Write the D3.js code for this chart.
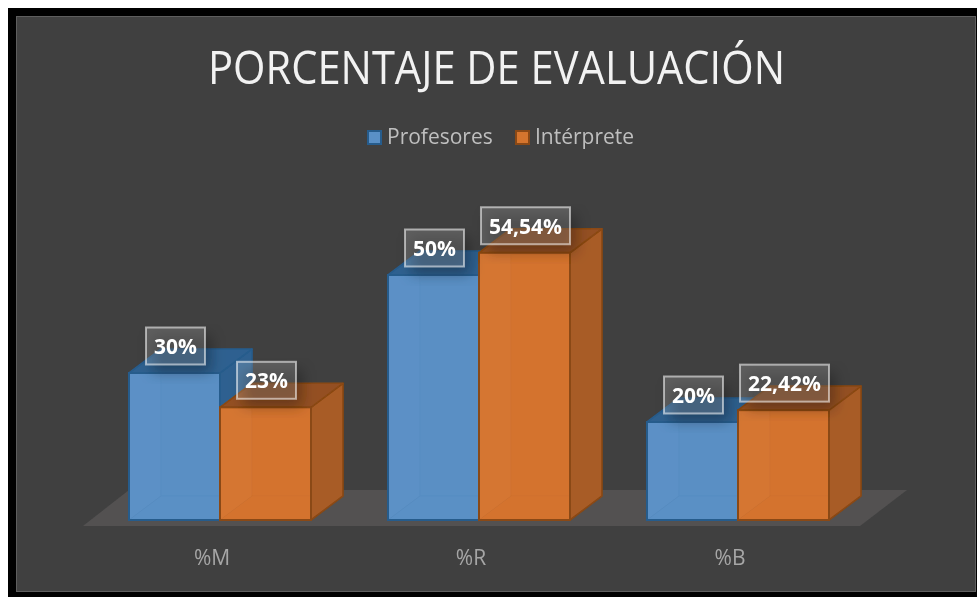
<!DOCTYPE html>
<html>
<head>
<meta charset="utf-8">
<script src="https://cdn.jsdelivr.net/npm/d3@7"></script>
<style>
html, body { margin: 0; padding: 0; background: #fff; overflow: hidden; }
text { font-family: "Open Sans", sans-serif; }
</style>
</head>
<body>
<div id="chart"></div>
<script>
var categories = ["%M", "%R", "%B"];
var seriesNames = ["Profesores", "Intérprete"];
var profesores = [30, 50, 20];
var interprete = [23, 54.54, 22.42];
var profesoresLabels = ["30%", "50%", "20%"];
var interpreteLabels = ["23%", "54,54%", "22,42%"];

var width = 977, height = 597;
var depthX = 32, depthY = 24;

var colors = {
    Profesores: {front: "#5a90c6", side: "#2f6190", top: "#2f6190", line: "#265c8c", inner: "#649bd2"},
    "Intérprete": {front: "#d5742f", side: "#a85c28", top: "#945022", line: "#8a4812", inner: "#e58545"}
};

var svg = d3.select("#chart").append("svg")
    .attr("width", width)
    .attr("height", height);

var defs = svg.append("defs");
defs.append("filter").attr("id", "soft")
    .attr("x", "-30%").attr("y", "-30%").attr("width", "160%").attr("height", "160%")
    .append("feGaussianBlur").attr("stdDeviation", 7);
defs.append("filter").attr("id", "slight")
    .attr("x", "0").attr("y", "0").attr("width", "100%").attr("height", "100%")
    .attr("filterUnits", "userSpaceOnUse")
    .append("feGaussianBlur").attr("stdDeviation", 0.4);

// screenshot frame
svg.append("rect").attr("x", 8).attr("y", 8).attr("width", width - 8).attr("height", height - 8).attr("fill", "#000");
svg.append("rect").attr("x", 16.5).attr("y", 16.5).attr("width", 959).attr("height", 575)
    .attr("fill", "#404040").attr("stroke", "#5e5e5e");

var g = svg.append("g").attr("filter", "url(#slight)");

var x0 = d3.scaleBand().domain(categories).range([90.5, 867.5]).paddingInner(0).paddingOuter(0);
var x1 = d3.scaleBand().domain(seriesNames).range([38.5, 220.5]);
var y = d3.scaleLinear().domain([0, 60]).range([520, 226]);

// floor
var floorBack = 490, floorFront = 526;
g.append("path")
    .attr("d", d3.line()([[83, floorFront], [860, floorFront], [907, floorBack], [129, floorBack]]) + "Z")
    .attr("fill", "#535151");

function rows(name, values, labels) {
    return categories.map(function (c, i) {
        return {cat: c, series: name, value: values[i], label: labels[i]};
    });
}
var data = rows("Profesores", profesores, profesoresLabels)
    .concat(rows("Intérprete", interprete, interpreteLabels));

var poly = d3.line();

var bars = g.selectAll("g.bar").data(data).enter().append("g").attr("class", "bar");

bars.each(function (d) {
    var b = d3.select(this),
        c = colors[d.series],
        xl = x0(d.cat) + x1(d.series),
        xr = xl + x1.bandwidth(),
        yt = y(d.value),
        yb = y(0),
        dx = depthX, dy = depthY;

    function face(pts, fill, op) {
        b.append("path").attr("d", poly(pts) + "Z")
            .attr("fill", fill).attr("fill-opacity", op)
            .attr("stroke", c.line).attr("stroke-width", 1).attr("stroke-opacity", 0.3)
            .attr("stroke-linejoin", "round");
    }
    // inside faces show through the transparent front
    face([[xl, yb], [xl + dx, yb - dy], [xl + dx, yt - dy], [xl, yt]], c.inner, 0.9);
    face([[xl + dx, yb - dy], [xr + dx, yb - dy], [xr + dx, yt - dy], [xl + dx, yt - dy]], c.front, 0.95);
    face([[xl, yb], [xr, yb], [xr + dx, yb - dy], [xl + dx, yb - dy]], c.front, 0.95);

    // right side and top
    b.append("path").attr("d", poly([[xr, yb], [xr + dx, yb - dy], [xr + dx, yt - dy], [xr, yt]]) + "Z")
        .attr("fill", c.side).attr("stroke", c.line).attr("stroke-width", 1.6).attr("stroke-linejoin", "round");
    b.append("path").attr("d", poly([[xl, yt], [xr, yt], [xr + dx, yt - dy], [xl + dx, yt - dy]]) + "Z")
        .attr("fill", c.top).attr("stroke", c.line).attr("stroke-width", 1.6).attr("stroke-linejoin", "round");
    // front
    b.append("rect").attr("x", xl).attr("y", yt).attr("width", xr - xl).attr("height", yb - yt)
        .attr("fill", c.front).attr("fill-opacity", 0.84)
        .attr("stroke", c.line).attr("stroke-width", 2);
});

// data labels go on top of every bar
var labels = g.selectAll("g.label").data(data).enter().append("g").attr("class", "label");

labels.each(function (d) {
    var l = d3.select(this),
        cx = x0(d.cat) + x1(d.series) + x1.bandwidth() / 2 + 1,
        cy = y(d.value) - 27;

    var shadow = l.append("rect").attr("fill", "#000").attr("fill-opacity", 0.3).attr("filter", "url(#soft)");
    var box = l.append("rect").attr("fill", "#fff").attr("fill-opacity", 0.16)
        .attr("stroke", "#fff").attr("stroke-opacity", 0.55).attr("stroke-width", 2);
    var t = l.append("text").attr("x", cx).attr("y", cy + 8)
        .attr("text-anchor", "middle")
        .attr("font-size", 21).attr("font-weight", 700).attr("fill", "#fff")
        .text(d.label);

    var w = t.node().getBBox().width + 16, h = 37;
    box.attr("x", cx - w / 2).attr("y", cy - h / 2).attr("width", w).attr("height", h);
    shadow.attr("x", cx - w / 2 + 6).attr("y", cy - h / 2 + 8).attr("width", w).attr("height", h);
});

// category labels
g.selectAll("text.cat").data(categories).enter().append("text")
    .attr("class", "cat")
    .attr("x", function (d) { return x0(d) + x0.bandwidth() / 2 - 8; })
    .attr("y", 565)
    .attr("text-anchor", "middle")
    .attr("font-size", 21)
    .attr("fill", "#a6a6a6")
    .text(function (d) { return d; });

// title
g.append("text")
    .attr("x", 496.5).attr("y", 84)
    .attr("text-anchor", "middle")
    .attr("font-size", 45)
    .attr("textLength", 577)
    .attr("lengthAdjust", "spacingAndGlyphs")
    .attr("fill", "#f2f2f2")
    .text("PORCENTAJE DE EVALUACIÓN");

// legend
var legendX = [367, 515];
var legend = g.selectAll("g.legend").data(seriesNames).enter().append("g")
    .attr("class", "legend")
    .attr("transform", function (d, i) { return "translate(" + legendX[i] + ",130)"; });
legend.append("rect")
    .attr("x", 1).attr("y", 1).attr("width", 13).attr("height", 13)
    .attr("fill", function (d) { return colors[d].front; })
    .attr("stroke", function (d) { return colors[d].line; })
    .attr("stroke-width", 2);
legend.append("text")
    .attr("x", 20).attr("y", 14)
    .attr("font-size", 21)
    .attr("fill", "#bfbfbf")
    .text(function (d) { return d; });
</script>
</body>
</html>
